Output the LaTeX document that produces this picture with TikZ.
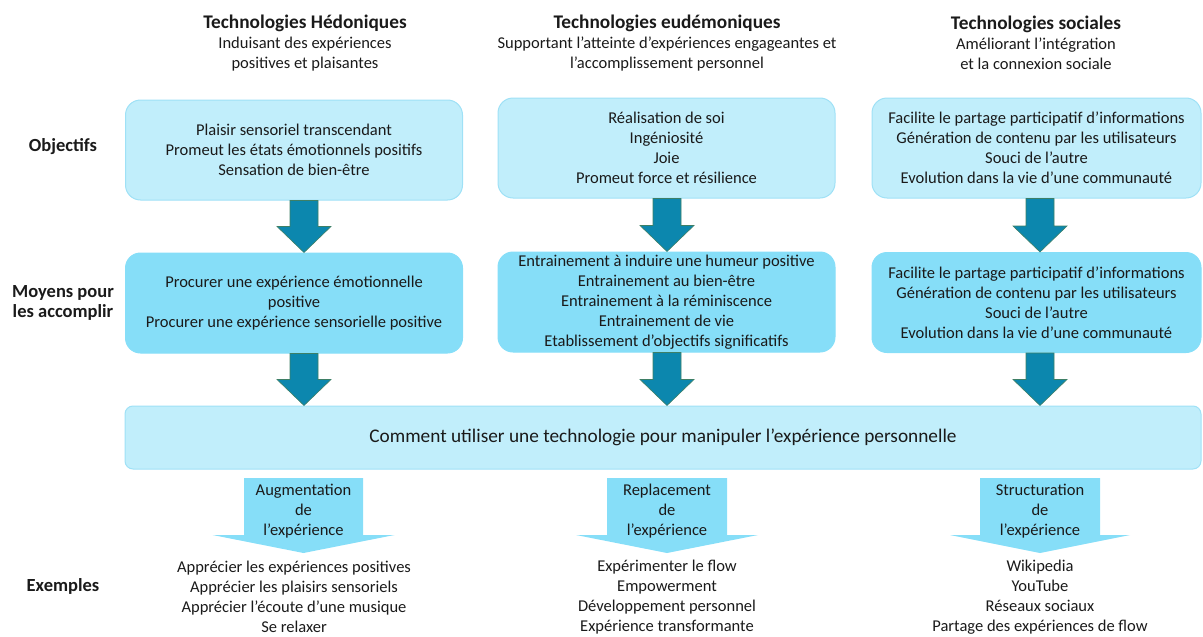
\documentclass[tikz,border=0pt]{standalone}
\usepackage{fontspec}
\setmainfont{Carlito}
\usetikzlibrary{calc}
\definecolor{lightbox}{HTML}{C1EEFB}
\definecolor{lightborder}{HTML}{9FE1F6}
\definecolor{midbox}{HTML}{86DEF8}
\definecolor{arrfill}{HTML}{0C87AE}
\definecolor{arrdraw}{HTML}{3E7F66}
\definecolor{txt}{HTML}{1A1A1A}
\tikzset{
  base/.style={font=\fontsize{16.5}{20}\selectfont, text=txt, align=center},
  objbox/.style={base, draw=lightborder, fill=lightbox, line width=1pt, rounded corners=15pt, minimum height=100pt, inner sep=0pt},
  moybox/.style={base, draw=midbox, fill=midbox, line width=1pt, rounded corners=15pt, minimum height=100pt, inner sep=0pt},
  centralbox/.style={draw=lightborder, fill=lightbox, line width=1pt, rounded corners=8pt, minimum height=63pt, minimum width=1076pt, font=\fontsize{19.3}{22}\selectfont, text=txt},
  header/.style={base},
  rowlabel/.style={base, font=\bfseries\fontsize{18.5}{20}\selectfont},
  blockarrow/.style={fill=arrfill, draw=arrdraw, line width=0.6pt},
  callout/.style={fill=midbox},
  callouttext/.style={base, inner sep=0pt},
}
\newcommand\blockarr[3]{%
  \path[blockarrow] let \p1=(#2.south), \p2=(#3.north) in
    (#1pt-14pt,\y1) -- (#1pt-14pt,\y2+26pt) -- (#1pt-27pt,\y2+26pt) -- (#1pt,\y2)
    -- (#1pt+27pt,\y2+26pt) -- (#1pt+14pt,\y2+26pt) -- (#1pt+14pt,\y1) -- cycle;}
\newcommand\calloutshape[5]{% center x, half rect width, head half width, rect top, rect bottom ; tip = bottom+18
  \path[callout] (#1pt-#2pt,-#4pt) -- (#1pt+#2pt,-#4pt) -- (#1pt+#2pt,-#5pt) -- (#1pt+#3pt,-#5pt)
    -- (#1pt,-#5pt-18pt) -- (#1pt-#3pt,-#5pt) -- (#1pt-#2pt,-#5pt) -- cycle;}
\begin{document}
\begin{tikzpicture}[x=1pt,y=-1pt]
\useasboundingbox (0,0) rectangle (1203,637);
% headers
\node[header] (h1) at (305,43) {\textbf{\fontsize{19.3}{20}\selectfont Technologies Hédoniques}\\Induisant des expériences\\positives et plaisantes};
\node[header] (h2) at (667,43) {\textbf{\fontsize{19.3}{20}\selectfont Technologies eudémoniques}\\Supportant l’atteinte d’expériences engageantes et\\l’accomplissement personnel};
\node[header] (h3) at (1036,43) {\textbf{\fontsize{19.3}{20}\selectfont Technologies sociales}\\Améliorant l’intégration\\et la connexion sociale};
% row labels
\node[rowlabel] (l1) at (63,147) {Objectifs};
\node[rowlabel] (l2) at (63,303) {Moyens pour\\les accomplir};
\node[rowlabel] (l3) at (63,586) {Exemples};
% objective boxes
\node[objbox, minimum width=337pt] (o1) at (294,150) {Plaisir sensoriel transcendant\\Promeut les états émotionnels positifs\\Sensation de bien-être};
\node[objbox, minimum width=337pt] (o2) at (666.5,148) {Réalisation de soi\\Ingéniosité\\Joie\\Promeut force et résilience};
\node[objbox, minimum width=329pt] (o3) at (1036.5,148) {Facilite le partage participatif d’informations\\Génération de contenu par les utilisateurs\\Souci de l’autre\\Evolution dans la vie d’une communauté};
% means boxes
\node[moybox, minimum width=337pt] (m1) at (294,303) {Procurer une expérience émotionnelle\\positive\\Procurer une expérience sensorielle positive};
\node[moybox, minimum width=337pt] (m2) at (666.5,302) {Entrainement à induire une humeur positive\\Entrainement au bien-être\\Entrainement à la réminiscence\\Entrainement de vie\\Etablissement d’objectifs significatifs};
\node[moybox, minimum width=329pt] (m3) at (1036.5,302.5) {Facilite le partage participatif d’informations\\Génération de contenu par les utilisateurs\\Souci de l’autre\\Evolution dans la vie d’une communauté};
% central box
\node[centralbox] (c) at (663,437.5) {Comment utiliser une technologie pour manipuler l’expérience personnelle};
% block arrows
\blockarr{304}{o1}{m1}
\blockarr{667}{o2}{m2}
\blockarr{1040}{o3}{m3}
\blockarr{304}{m1}{c}
\blockarr{667}{m2}{c}
\blockarr{1040}{m3}{c}
% callouts
\calloutshape{303.5}{59.5}{91}{478}{535}
\calloutshape{667}{60}{91}{478}{535}
\calloutshape{1040}{60}{90}{478}{535}
\node[callouttext] (k1) at (303.5,511) {Augmentation\\de\\l’expérience};
\node[callouttext] (k2) at (667,511) {Replacement\\de\\l’expérience};
\node[callouttext] (k3) at (1040,511) {Structuration\\de\\l’expérience};
% examples
\node[base] (e1) at (294,597) {Apprécier les expériences positives\\Apprécier les plaisirs sensoriels\\Apprécier l’écoute d’une musique\\Se relaxer};
\node[base] (e2) at (667,597) {Expérimenter le flow\\Empowerment\\Développement personnel\\Expérience transformante};
\node[base] (e3) at (1040,597) {Wikipedia\\YouTube\\Réseaux sociaux\\Partage des expériences de flow};
\end{tikzpicture}
\end{document}
